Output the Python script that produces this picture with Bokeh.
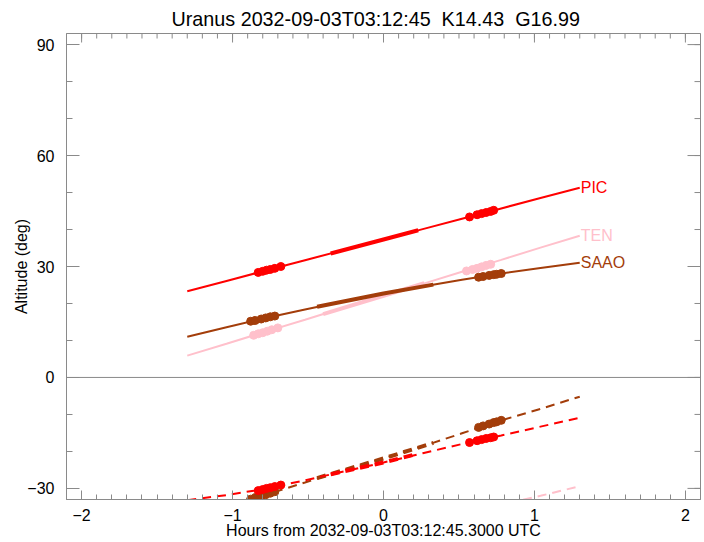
import math
from bokeh.plotting import figure
from bokeh.models import LinearAxis, FixedTicker, Span
from bokeh.embed import file_html
from bokeh.resources import INLINE
from bokeh.core.properties import value

# ---------------- data ----------------
title_text = "Uranus 2032-09-03T03:12:45 \u00a0K14.43 \u00a0G16.99"
x_title = "Hours from 2032-09-03T03:12:45.3000 UTC"
y_title = "Altitude (deg)"

stations = ["PIC", "TEN", "SAAO"]
colors = ["#FF0000", "#FFC0CB", "#A33D0A"]

hours = [-1.3, -1.04, -0.78, -0.52, -0.26, 0.0, 0.26, 0.52, 0.78, 1.04, 1.3]

# altitude of the target (solid)
pic_alt = [23.3, 26.1, 28.9, 31.7, 34.5, 37.3, 40.1, 42.9, 45.7, 48.5, 51.3]
ten_alt = [5.9, 9.1, 12.4, 15.6, 18.9, 22.1, 25.3, 28.6, 31.8, 35.1, 38.3]
saao_alt = [11.0, 13.6, 16.1, 18.4, 20.6, 22.7, 24.6, 26.4, 28.1, 29.6, 31.0]

# lower (dashed) curves
pic_low = [-33.2, -31.8, -30.1, -27.8, -25.4, -23.0, -20.5, -18.0, -15.7, -13.3, -10.9]
ten_low = [-54.5, -52.0, -49.4, -46.8, -44.2, -41.6, -39.0, -36.6, -34.4, -32.0, -29.4]
saao_low = [-37.6, -34.5, -31.7, -28.4, -25.0, -21.9, -18.6, -15.1, -11.6, -8.5, -5.2]

# highlighted (thick) windows
pic_win_t = [-0.35, 0.0, 0.23]
pic_win_alt = [33.5, 37.3, 39.8]
pic_win_low = [-26.2, -23.0, -20.6]
ten_win_t = [-0.40, 0.0, 0.27]
ten_win_alt = [17.1, 22.1, 25.5]
ten_win_low = [-46.6, -41.6, -38.9]
saao_win_t = [-0.44, 0.0, 0.33]
saao_win_alt = [19.1, 22.7, 25.1]
saao_win_low = [-27.2, -21.9, -17.7]

# observation dots
pic_dot_t = [-0.83, -0.80, -0.775, -0.75, -0.72, -0.68, 0.57, 0.62, 0.65, 0.68, 0.71, 0.73]
pic_dot_alt = [28.4, 28.7, 29.0, 29.2, 29.5, 30.0, 43.4, 44.0, 44.3, 44.6, 44.9, 45.2]
pic_dot_low = [-30.6, -30.3, -30.0, -29.8, -29.5, -29.1, -17.6, -17.1, -16.8, -16.5, -16.3, -16.1]
ten_dot_t = [-0.86, -0.83, -0.80, -0.77, -0.74, -0.70, 0.55, 0.59, 0.62, 0.65, 0.68, 0.71]
ten_dot_alt = [11.4, 11.8, 12.1, 12.5, 12.9, 13.4, 28.8, 29.2, 29.5, 29.9, 30.3, 30.6]
ten_dot_low = [-50.1, -49.8, -49.4, -49.1, -48.8, -48.4, -36.9, -36.5, -36.3, -36.0, -35.8, -35.5]
saao_dot_t = [-0.88, -0.85, -0.81, -0.78, -0.75, -0.72, 0.63, 0.66, 0.70, 0.73, 0.75, 0.78]
saao_dot_alt = [15.2, 15.4, 15.8, 16.1, 16.4, 16.6, 27.1, 27.3, 27.6, 27.8, 27.9, 28.1]
saao_dot_low = [-32.9, -32.5, -32.1, -31.7, -31.3, -30.9, -13.5, -13.1, -12.6, -12.2, -12.0, -11.6]

x_major = [-2, -1, 0, 1, 2]
y_major = [-30, 0, 30, 60, 90]
X_LIM = (-2.1, 2.1)
Y_LIM = (-33, 93)

# ---------------- figure ----------------
GREY = "#8a8a8a"
FONT = "Liberation Sans"

p = figure(width=704, height=542, x_range=X_LIM, y_range=Y_LIM,
           output_backend="svg", toolbar_location=None, title=title_text,
           x_axis_location=None, y_axis_location=None,
           min_border_left=66, min_border_right=4, min_border_top=33,
           min_border_bottom=43)
p.xgrid.visible = False
p.ygrid.visible = False
p.outline_line_color = GREY
p.background_fill_color = "white"
p.border_fill_color = "white"

p.title.text_font = FONT
p.title.text_font_size = "19.75px"
p.title.text_font_style = "normal"
p.title.text_color = "black"
p.title.align = "left"
p.title.offset = 105
p.title.standoff = 8

x_minor = [round(X_LIM[0] + 0.1 * i, 1) for i in range(43)]
y_minor = list(range(-30, 91, 10))
xt = FixedTicker(ticks=x_major, minor_ticks=x_minor)
yt = FixedTicker(ticks=y_major, minor_ticks=y_minor)


def style(ax, major_in, minor_in):
    ax.axis_line_color = GREY
    ax.major_tick_line_color = GREY
    ax.minor_tick_line_color = GREY
    ax.major_tick_in = major_in
    ax.major_tick_out = 0
    ax.minor_tick_in = minor_in
    ax.minor_tick_out = 0
    ax.major_label_text_font = FONT
    ax.major_label_text_font_size = "16px"
    ax.major_label_text_color = "black"
    ax.axis_label_text_font = FONT
    ax.axis_label_text_font_size = "16px"
    ax.axis_label_text_font_style = "normal"
    ax.axis_label_text_color = "black"


bottom = LinearAxis(ticker=xt, axis_label=x_title)
style(bottom, 9, 5)
bottom.major_label_standoff = 9
bottom.axis_label_standoff = -2
p.add_layout(bottom, "below")

left = LinearAxis(ticker=yt, axis_label=y_title)
style(left, 13, 6)
left.major_label_standoff = 12
left.axis_label_standoff = -6
p.add_layout(left, "left")

# inward ticks on the top and right edges of the box
p.scatter(x_minor, [Y_LIM[1]] * len(x_minor), marker="dash", size=10,
          angle=math.pi / 2, line_color=GREY, line_width=1)
p.scatter(x_major, [Y_LIM[1]] * len(x_major), marker="dash", size=18,
          angle=math.pi / 2, line_color=GREY, line_width=1)
p.scatter([X_LIM[1]] * len(y_minor), y_minor, marker="dash", size=12,
          line_color=GREY, line_width=1)
p.scatter([X_LIM[1]] * len(y_major), y_major, marker="dash", size=26,
          line_color=GREY, line_width=1)

p.add_layout(Span(location=0, dimension="width", line_color=GREY, line_width=1))

DASH = "9 6"
series = [
    ("TEN", ten_alt, ten_low, ten_win_t, ten_win_alt, ten_win_low, ten_dot_t, ten_dot_alt, ten_dot_low),
    ("SAAO", saao_alt, saao_low, saao_win_t, saao_win_alt, saao_win_low, saao_dot_t, saao_dot_alt, saao_dot_low),
    ("PIC", pic_alt, pic_low, pic_win_t, pic_win_alt, pic_win_low, pic_dot_t, pic_dot_alt, pic_dot_low),
]
for name, alt, low, wt, walt, wlow, dt, dalt, dlow in series:
    c = colors[stations.index(name)]
    p.line(hours, alt, line_color=c, line_width=2)
    p.line(hours, low, line_color=c, line_width=2, line_dash=DASH)
    p.line(wt, walt, line_color=c, line_width=4)
    p.line(wt, wlow, line_color=c, line_width=4, line_dash=DASH)
    p.scatter(dt, dalt, size=8, fill_color=c, line_color=c)
    p.scatter(dt, dlow, size=8, fill_color=c, line_color=c)
    p.text(x=[hours[-1]], y=[alt[-1]], text=[name], x_offset=1,
           text_baseline="alphabetic", text_align="left",
           text_font=value(FONT), text_font_size="16px", text_color=c)

open("out.html", "w").write(file_html(p, INLINE))
